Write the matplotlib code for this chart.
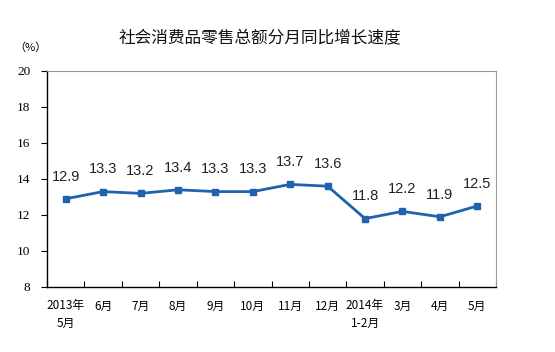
import matplotlib
matplotlib.use("Agg")
import matplotlib.pyplot as plt
import numpy as np

# data
months = ["2013年\n5月", "6月", "7月", "8月", "9月", "10月", "11月", "12月",
          "2014年\n1-2月", "3月", "4月", "5月"]
growth = [12.9, 13.3, 13.2, 13.4, 13.3, 13.3, 13.7, 13.6, 11.8, 12.2, 11.9, 12.5]
yticks = [8, 10, 12, 14, 16, 18, 20]

plt.rcParams['font.family'] = ['Noto Sans CJK SC', 'DejaVu Sans']

fig = plt.figure(figsize=(5.55, 3.52), dpi=100)
ax = fig.add_axes([0.0847, 0.1847, 0.809, 0.6136])

x = np.arange(len(growth))
line_color = "#1F63AE"
ax.plot(x, growth, color=line_color, linewidth=2, marker="s", markersize=5,
        markerfacecolor=line_color, markeredgecolor=line_color)

for xi, v in zip(x, growth):
    ax.annotate(f"{v:.1f}", (xi, v), xytext=(0, 11), textcoords="offset points",
                ha="center", va="bottom", fontsize=10.5, family="Liberation Sans",
                color="#222222")

ax.set_xlim(-0.5, len(growth) - 0.5)
ax.set_ylim(8, 20)
ax.set_yticks(yticks)
ax.set_yticklabels([str(t) for t in yticks], family="Liberation Serif", fontsize=9.5)
ax.tick_params(axis="y", direction="out", length=4, width=0.8, pad=8)

# category separators on x axis
ax.set_xticks(np.arange(len(growth) + 1) - 0.5, minor=True)
ax.set_xticks(x)
ax.set_xticklabels(months, fontsize=8.5, linespacing=1.4)
ax.tick_params(axis="x", which="major", length=0, pad=9)
ax.tick_params(axis="x", which="minor", direction="in", length=4, width=0.8)

for s in ["left", "bottom"]:
    ax.spines[s].set_color("black")
    ax.spines[s].set_linewidth(1)
for s in ["top", "right"]:
    ax.spines[s].set_color("#999999")
    ax.spines[s].set_linewidth(0.8)

fig.text(0.468, 0.89, "社会消费品零售总额分月同比增长速度", ha="center", va="center",
         fontsize=12, color="#111111")
fig.text(0.025, 0.865, "（%）", ha="left", va="center", fontsize=8)

fig.savefig("out.png", dpi=100)
